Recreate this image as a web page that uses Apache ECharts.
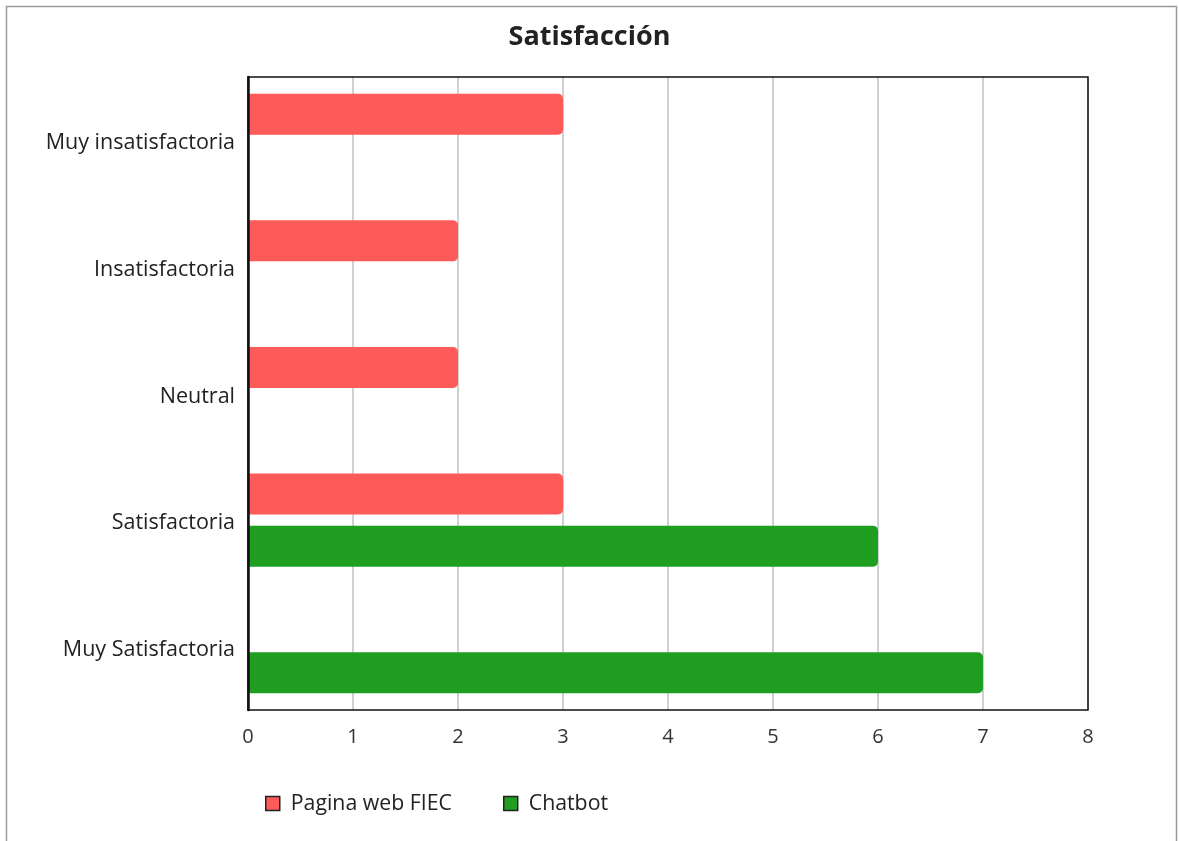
<!DOCTYPE html>
<html>
<head>
<meta charset="utf-8">
<script src="https://cdn.jsdelivr.net/npm/echarts@6/dist/echarts.min.js"></script>
<style>
  html, body { margin: 0; padding: 0; background: #fff; }
  #chart { width: 1179px; height: 841px; }
</style>
</head>
<body>
<div id="chart"></div>
<script>
// Satisfaction survey responses, top to bottom
const categories = ['Muy insatisfactoria', 'Insatisfactoria', 'Neutral', 'Satisfactoria', 'Muy Satisfactoria'];
const seriesNames = ['Pagina web FIEC', 'Chatbot'];
const webValues = [3, 2, 2, 3, 0];
const chatbotValues = [0, 0, 0, 6, 7];
const xTicks = [0, 1, 2, 3, 4, 5, 6, 7, 8];

const FONT = '"Open Sans", "Noto Sans", sans-serif';
const GRID = { left: 248, top: 77, right: 1088, bottom: 710 };
const chart = echarts.init(document.getElementById('chart'));

chart.setOption({
  backgroundColor: '#fff',
  animation: false,
  textStyle: { fontFamily: FONT },
  graphic: [
    {
      // outer frame
      type: 'rect',
      shape: { x: 6.5, y: 6.5, width: 1170, height: 850 },
      style: { fill: 'none', stroke: '#9a9a9a', lineWidth: 1.5 },
      silent: true
    },
    {
      // plot area frame, drawn above the grid lines
      type: 'rect',
      z: 100,
      shape: { x: GRID.left, y: GRID.top, width: GRID.right - GRID.left, height: GRID.bottom - GRID.top },
      style: { fill: 'none', stroke: '#111', lineWidth: 1.5 },
      silent: true
    }
  ],
  title: {
    text: 'Satisfacción',
    left: 'center',
    top: 19,
    textStyle: { fontFamily: FONT, fontSize: 27, fontWeight: 'bold', color: '#222' }
  },
  legend: {
    data: seriesNames,
    left: 260,
    top: 788,
    icon: 'rect',
    itemWidth: 14,
    itemHeight: 14,
    itemGap: 51,
    itemStyle: { borderColor: '#222', borderWidth: 1.5 },
    textStyle: { fontFamily: FONT, fontSize: 21.3, color: '#222', padding: [0, 0, 0, 6] }
  },
  grid: {
    left: GRID.left, right: 1179 - GRID.right, top: GRID.top, bottom: 841 - GRID.bottom,
    show: false,
    containLabel: false
  },
  xAxis: {
    type: 'value',
    min: xTicks[0],
    max: xTicks[xTicks.length - 1],
    interval: 1,
    axisLine: { show: false },
    axisTick: { show: false },
    axisLabel: { fontFamily: FONT, fontSize: 20, color: '#333', margin: 17 },
    splitLine: { show: true, lineStyle: { color: '#d0d0d0', width: 2 } }
  },
  yAxis: {
    type: 'category',
    inverse: true,
    data: categories,
    z: 101,
    axisLine: { show: true, lineStyle: { color: '#111', width: 2.5 } },
    axisTick: { show: false },
    axisLabel: {
      margin: 13,
      formatter: (v) => '{c|' + v + '}',
      rich: {
        c: { fontFamily: FONT, fontSize: 21.5, color: '#222', padding: [6, 0, 0, 0] }
      }
    },
    splitLine: { show: false }
  },
  series: [
    {
      name: seriesNames[0],
      type: 'bar',
      data: webValues,
      barWidth: 41,
      barGap: '27%',
      itemStyle: { color: '#ff5a5a', borderRadius: [0, 5, 5, 0] }
    },
    {
      name: seriesNames[1],
      type: 'bar',
      data: chatbotValues,
      barWidth: 41,
      barGap: '27%',
      itemStyle: { color: '#1f9e22', borderRadius: [0, 5, 5, 0] }
    }
  ]
});
</script>
</body>
</html>
